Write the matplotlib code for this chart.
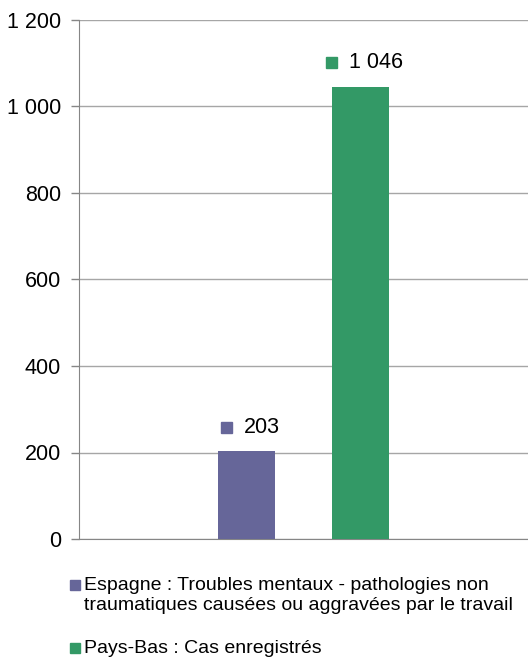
import matplotlib
matplotlib.use("Agg")
import matplotlib.pyplot as plt
from matplotlib.patches import Rectangle
from matplotlib.ticker import FuncFormatter, MultipleLocator

plt.rcParams["font.family"] = ["Liberation Sans", "DejaVu Sans"]

series = [
    "Espagne : Troubles mentaux - pathologies non\ntraumatiques causées ou aggravées par le travail",
    "Pays-Bas : Cas enregistrés",
]
values = [203, 1046]
colors = ["#666699", "#339966"]
offsets = [-0.127, 0.127]

def fmt(v, pos=None):
    return f"{int(v):,}".replace(",", " ")

fig = plt.figure(figsize=(5.28, 6.6), dpi=100)
ax = fig.add_axes([79 / 528, 1 - 539 / 660, 1 - 79 / 528, (539 - 20) / 660])

ax.bar(offsets, values, width=0.127, color=colors, zorder=3)
ax.set_xlim(-0.5, 0.5)
ax.set_ylim(0, 1200)
ax.yaxis.set_major_locator(MultipleLocator(200))
ax.yaxis.set_major_formatter(FuncFormatter(fmt))
ax.grid(axis="y", color="#a6a6a6", linewidth=1, zorder=0)
ax.set_xticks([])
ax.tick_params(axis="y", length=6, width=1, color="#868686", pad=7, labelsize=15.5)
for s in ["top", "right"]:
    ax.spines[s].set_visible(False)
ax.spines["left"].set_color("#868686")
ax.spines["bottom"].set_color("#868686")

# data labels with small colour squares
labels = []
for x, v, c in zip(offsets, values, colors):
    t = ax.annotate(fmt(v), (x, v), xytext=(11, 17), textcoords="offset points",
                    ha="center", va="center", fontsize=15.5)
    labels.append((t, c))
fig.canvas.draw()
r = fig.canvas.get_renderer()
for t, c in labels:
    bb = t.get_window_extent(r)
    cx = bb.x0 - 12 - 5.5
    cy = (bb.y0 + bb.y1) / 2
    fig.add_artist(Rectangle(((cx - 5.5) / 528, (cy - 5.5) / 660), 11 / 528, 11 / 660,
                             transform=fig.transFigure, color=c))

# legend
leg_y = [585, 648]
for name, c, y in zip(series, colors, leg_y):
    fig.add_artist(Rectangle((70 / 528, 1 - (y + 5) / 660), 10 / 528, 10 / 660,
                             transform=fig.transFigure, color=c))
    fig.text(84 / 528, 1 - (y - 8) / 660, name, ha="left", va="top",
             fontsize=14, linespacing=1.25)

fig.savefig("out.png", dpi=100)
